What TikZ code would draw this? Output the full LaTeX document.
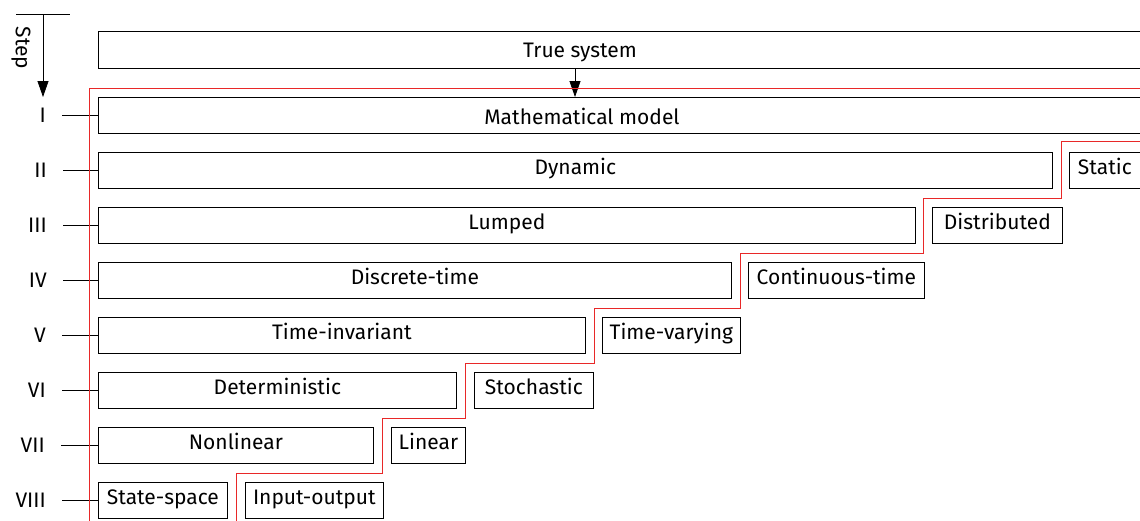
\documentclass[tikz,border=0pt]{standalone}
\usepackage{fontspec}
\setmainfont{Fira Sans}
\usetikzlibrary{arrows.meta}
\definecolor{redline}{RGB}{232,40,40}
\begin{document}
\begin{tikzpicture}[x=1pt,y=-1pt,
  every node/.style={font=\fontsize{21}{25}\selectfont},
  box/.style={draw=black, line width=0.75pt, inner sep=0pt, anchor=north west,
     minimum height=36pt, text height=12.5pt, text depth=4.5pt},
  lbl/.style={inner sep=0pt, anchor=east, text height=15pt, text depth=4.5pt},
  tick/.style={line width=0.75pt},
  arr/.style={line width=0.75pt, -{Triangle[length=16pt,width=11pt]}},
  stair/.style={draw=redline, line width=1pt}]
\useasboundingbox (0,0) rectangle (1140,520);
\clip (0,0) rectangle (1140,520);
% step arrow
\coordinate (sl) at (16,14);
\coordinate (sr) at (70,14);
\coordinate (st) at (43,14);
\coordinate (sb) at (43,97);
\draw[tick] (sl) -- (sr);
\draw[arr] (st) -- (sb);
\node[rotate=-90, inner sep=0pt] (steptext) at (21,48) {Step};
% boxes
\node[box, minimum width=1052pt, minimum height=37pt] (ts) at (98,31) {};
\node[inner sep=0pt, text height=15pt, text depth=4.5pt] (tstext) at (580,52.5) {True system};
\node[box, minimum width=1052pt] (mm) at (98,97) {};
\node[inner sep=0pt, text height=15pt, text depth=4.5pt] (mmtext) at (582,119) {Mathematical model};
\node[box, minimum width=954pt] (dyn) at (98,152) {Dynamic};
\node[box, minimum width=81pt] (stat) at (1069,152) {\hspace*{-10pt}Static};
\node[box, minimum width=817pt] (lump) at (98,207) {Lumped};
\node[box, minimum width=130pt] (dist) at (932,207) {Distributed};
\node[box, minimum width=633pt] (disc) at (98,262) {Discrete-time};
\node[box, minimum width=176pt] (cont) at (748,262) {Continuous-time};
\node[box, minimum width=487pt] (ti) at (98,317) {Time-invariant};
\node[box, minimum width=138pt] (tv) at (602,317) {Time-varying};
\node[box, minimum width=358pt] (det) at (98,372) {Deterministic};
\node[box, minimum width=119pt] (sto) at (474,372) {Stochastic};
\node[box, minimum width=275pt] (nl) at (98,427) {Nonlinear};
\node[box, minimum width=74pt] (lin) at (391,427) {Linear};
\node[box, minimum width=129pt] (ss) at (98,482) {State-space};
\node[box, minimum width=138pt] (io) at (245,482) {Input-output};
% arrow true system -> model
\draw[arr] (575,0 |- ts.south) -- (575,0 |- mm.north);
% labels and ticks
\node[lbl] (l1) at (46,117) {I};
\node[lbl] (l2) at (47,172) {II};
\node[lbl] (l3) at (47,227) {III};
\node[lbl] (l4) at (47,282) {IV};
\node[lbl] (l5) at (46,337) {V};
\node[lbl] (l6) at (46,392) {VI};
\node[lbl] (l7) at (45,447) {VII};
\node[lbl] (l8) at (46,502) {VIII};
\foreach \l/\b in {l1/mm, l2/dyn, l3/lump, l4/disc, l5/ti, l6/det, l7/nl, l8/ss}
  \draw[tick] ([xshift=16pt]\l.east |- \b.west) -- (\b.west);
% red boundary
\draw[stair] (1150,88.5) -- (89.5,88.5) -- (89.5,525);
\draw[stair] (1150,141.5) -- (1061.5,141.5) -- (1061.5,198.5) -- (923.5,198.5) -- (923.5,253.5)
  -- (740.5,253.5) -- (740.5,308.5) -- (594.5,308.5) -- (594.5,363.5) -- (465.5,363.5) -- (465.5,418.5)
  -- (382.5,418.5) -- (382.5,473.5) -- (236.5,473.5) -- (236.5,525);
\end{tikzpicture}
\end{document}
